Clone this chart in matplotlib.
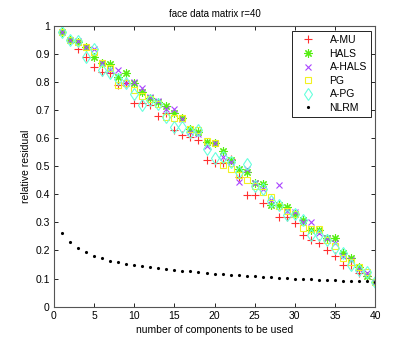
import numpy as np
import matplotlib
matplotlib.use("Agg")
import matplotlib.pyplot as plt
from matplotlib.ticker import FuncFormatter

# ---------------------------
# ------ DATA ---------------
# ---------------------------
n_comp = list(range(1, 41))

a_mu = [0.977, 0.948, 0.916, 0.890, 0.854, 0.836, 0.833, 0.789, 0.795, 0.726,
        0.726, 0.718, 0.680, 0.690, 0.629, 0.611, 0.605, 0.593, 0.522, 0.510,
        0.510, 0.524, 0.463, 0.397, 0.397, 0.370, 0.362, 0.320, 0.318, 0.297,
        0.255, 0.237, 0.228, 0.200, 0.180, 0.148, 0.148, 0.121, 0.109, 0.089]

hals = [0.977, 0.948, 0.940, 0.923, 0.890, 0.866, 0.864, 0.816, 0.830, 0.795,
        0.765, 0.742, 0.728, 0.715, 0.690, 0.670, 0.631, 0.620, 0.587, 0.584,
        0.555, 0.522, 0.489, 0.480, 0.441, 0.436, 0.362, 0.362, 0.354, 0.330,
        0.309, 0.273, 0.273, 0.245, 0.243, 0.190, 0.172, 0.140, 0.109, 0.089]

a_hals = [0.977, 0.950, 0.945, 0.923, 0.916, 0.866, 0.842, 0.842, 0.795, 0.800,
          0.777, 0.745, 0.730, 0.705, 0.705, 0.668, 0.620, 0.615, 0.570, 0.584,
          0.534, 0.515, 0.445, 0.490, 0.441, 0.420, 0.380, 0.433, 0.340, 0.337,
          0.300, 0.300, 0.262, 0.245, 0.225, 0.180, 0.165, 0.135, 0.120, 0.089]

pg = [0.977, 0.950, 0.940, 0.923, 0.905, 0.866, 0.850, 0.789, 0.795, 0.770,
      0.750, 0.738, 0.720, 0.674, 0.670, 0.670, 0.631, 0.630, 0.590, 0.584,
      0.504, 0.489, 0.470, 0.451, 0.430, 0.407, 0.392, 0.360, 0.340, 0.330,
      0.279, 0.275, 0.275, 0.237, 0.215, 0.175, 0.160, 0.142, 0.122, 0.089]

a_pg = [0.977, 0.950, 0.945, 0.890, 0.916, 0.842, 0.830, 0.810, 0.795, 0.758,
        0.718, 0.735, 0.720, 0.676, 0.640, 0.640, 0.620, 0.630, 0.560, 0.530,
        0.534, 0.515, 0.480, 0.508, 0.430, 0.420, 0.375, 0.362, 0.325, 0.330,
        0.309, 0.255, 0.255, 0.237, 0.208, 0.190, 0.150, 0.130, 0.125, 0.089]

nlrm = [0.263, 0.229, 0.208, 0.194, 0.182, 0.172, 0.164, 0.159, 0.153, 0.148,
        0.145, 0.140, 0.137, 0.133, 0.131, 0.128, 0.126, 0.122, 0.119, 0.117,
        0.115, 0.113, 0.111, 0.110, 0.108, 0.106, 0.105, 0.103, 0.102, 0.100,
        0.099, 0.097, 0.096, 0.095, 0.094, 0.093, 0.092, 0.091, 0.090, 0.088]

series_labels = ["A-MU", "HALS", "A-HALS", "PG", "A-PG", "NLRM"]

# ---------------------------
# ------ PLOT ---------------
# ---------------------------
plt.rcParams['font.family'] = ['Liberation Sans', 'DejaVu Sans']
plt.rcParams['font.size'] = 7.5

fig = plt.figure(figsize=(4.15, 3.46), dpi=100)
ax = fig.add_axes([0.130, 0.1136, 0.774, 0.8124])

ax.plot(n_comp, a_mu, linestyle='none', marker='+', color='#ff3030',
        markersize=6, markeredgewidth=0.8, label=series_labels[0])
ax.plot(n_comp, hals, linestyle='none', marker=(8, 2, 0), color='#55ee11',
        markersize=6, markeredgewidth=0.8, label=series_labels[1])
ax.plot(n_comp, a_hals, linestyle='none', marker='x', color='#aa44ff',
        markersize=4.5, markeredgewidth=0.8, label=series_labels[2])
ax.plot(n_comp, pg, linestyle='none', marker='s', markerfacecolor='none',
        markeredgecolor='#f2f220', markersize=5, markeredgewidth=0.8,
        label=series_labels[3])
ax.plot(n_comp, a_pg, linestyle='none', marker='d', markerfacecolor='none',
        markeredgecolor='#66ffdd', markersize=6, markeredgewidth=0.8,
        label=series_labels[4])
ax.plot(n_comp, nlrm, linestyle='none', marker='.', color='black',
        markersize=2.5, label=series_labels[5])

ax.set_xlim(0, 40)
ax.set_ylim(0, 1)
ax.set_xticks(np.arange(0, 41, 5))
ax.set_yticks(np.arange(0, 1.01, 0.1))
ax.yaxis.set_major_formatter(FuncFormatter(lambda v, p: f'{v:g}'))
ax.tick_params(direction='in', top=True, right=True, length=3, width=0.6, pad=3)
for sp in ax.spines.values():
    sp.set_linewidth(0.8)
    sp.set_color('#555555')

ax.set_title('face data matrix r=40', fontsize=7, pad=6)
ax.set_xlabel('number of components to be used', labelpad=3)
ax.set_ylabel('relative residual', labelpad=3)

leg = ax.legend(loc='upper right', bbox_to_anchor=(0.997, 0.993), frameon=True,
                fancybox=False, edgecolor='black', framealpha=1,
                handlelength=2.2, handletextpad=1.0, borderpad=0.4,
                labelspacing=0.35, borderaxespad=0.3)
leg.get_frame().set_linewidth(0.6)

fig.savefig('out.png', dpi=100)
